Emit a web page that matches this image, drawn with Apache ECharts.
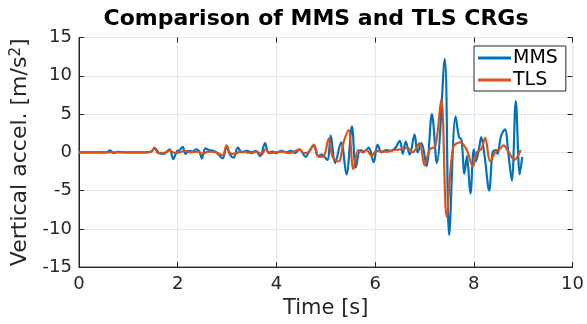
<!DOCTYPE html>
<html>
<head>
<meta charset="utf-8">
<script src="https://cdn.jsdelivr.net/npm/echarts@6/dist/echarts.min.js"></script>
<style>
  html, body { margin: 0; padding: 0; background: #fff; }
  #chart { width: 587px; height: 324px; }
</style>
</head>
<body>
<div id="chart"></div>
<script>
// values (time in s, acceleration in m/s^2)
const mmsTime = [0, 0.55, 0.63, 0.7, 0.78, 1.0, 1.3, 1.45, 1.54, 1.62, 1.72, 1.8, 1.84, 1.91, 1.98, 2.04, 2.1, 2.16, 2.22, 2.3, 2.38, 2.44, 2.49, 2.56, 2.64, 2.72, 2.8, 2.91, 2.99, 3.06, 3.13, 3.22, 3.3, 3.4, 3.5, 3.58, 3.67, 3.77, 3.84, 3.92, 4.0, 4.1, 4.2, 4.3, 4.38, 4.47, 4.53, 4.59, 4.67, 4.76, 4.84, 4.92, 5.03, 5.1, 5.19, 5.31, 5.42, 5.53, 5.61, 5.7, 5.78, 5.87, 5.97, 6.05, 6.13, 6.22, 6.3, 6.4, 6.5, 6.56, 6.62, 6.7, 6.8, 6.86, 6.94, 7.04, 7.15, 7.25, 7.41, 7.5, 7.63, 7.7, 7.75, 7.81, 7.86, 7.93, 8.0, 8.04, 8.1, 8.15, 8.22, 8.31, 8.38, 8.44, 8.48, 8.55, 8.63, 8.7, 8.77, 8.85, 8.93, 8.98];
const mmsAccel = [0, 0, 0.25, -0.1, 0.05, 0, 0, 0.05, 0.5, -0.1, -0.2, 0.2, 0.4, -0.9, 0.1, 0.3, 0.7, -0.2, 0.2, 0.1, 0.4, 0.1, -0.8, 0.5, 0.3, 0.2, -0.1, -0.8, 0.7, -0.3, -0.7, 0.6, 0.0, 0.2, 0.0, 0.2, -0.5, 1.2, -0.1, 0.1, -0.1, 0.2, 0.0, 0.2, -0.1, 0.4, -0.1, -0.6, 0.2, 0.9, -0.5, -0.3, -1.0, 2.2, -1.4, 1.3, -2.9, 3.4, -2.0, 0.3, 0.1, 0.6, -1.3, 1.0, 0.0, 0.3, 0.2, 0.5, 1.5, -0.2, 1.4, -0.3, 2.3, 0.0, 1.2, -1.8, 5.0, -1.4, 12.2, -10.8, 4.7, 2.0, 1.6, -2.8, -0.5, -5.4, 0.4, -1.2, 0.3, 2.0, -0.6, -5.0, 0.0, 0.3, -0.2, 2.1, 3.0, -0.2, -3.7, 6.7, -2.9, -0.6];
const tlsTime = [0, 1.4, 1.47, 1.53, 1.6, 1.7, 1.84, 1.95, 2.05, 2.15, 2.25, 2.4, 2.5, 2.62, 2.78, 2.91, 2.99, 3.06, 3.15, 3.28, 3.4, 3.5, 3.6, 3.7, 3.78, 3.88, 3.98, 4.1, 4.25, 4.4, 4.47, 4.55, 4.65, 4.76, 4.86, 4.96, 5.06, 5.14, 5.26, 5.36, 5.46, 5.56, 5.66, 5.75, 5.83, 5.93, 6.02, 6.12, 6.25, 6.4, 6.55, 6.65, 6.76, 6.9, 7.0, 7.11, 7.22, 7.34, 7.45, 7.58, 7.72, 7.85, 7.98, 8.06, 8.15, 8.23, 8.33, 8.45, 8.52, 8.6, 8.7, 8.82, 8.95];
const tlsAccel = [0, 0, 0.1, 0.6, -0.1, -0.1, 0.2, -0.1, 0.0, 0.2, 0.0, 0.1, -0.2, 0.1, 0.0, -0.4, 0.9, -0.1, -0.2, 0.1, 0.0, -0.1, 0.1, -0.3, 0.4, -0.1, 0.0, 0.1, -0.1, 0.2, 0.4, -0.1, 0.0, 1.0, -0.6, -0.5, 1.8, -0.6, -1.2, 1.3, 2.9, -2.2, 0.3, 0.0, 0.3, -0.5, 0.2, 0.1, 0.1, 0.3, 0.4, 0.6, 0.0, 1.2, -1.7, 0.4, 0.8, 6.9, -8.4, 0.6, 1.3, 0.4, -1.8, 0.0, 0.4, 1.9, -1.2, 0.2, 0.4, 0.9, 0.1, -1.0, 0.3];

const FONT = 'DejaVu Sans';
const AXIS = '#262626';

const chart = echarts.init(document.getElementById('chart'), null, { renderer: 'canvas' });

const zip = (t, v) => t.map((x, i) => [x, v[i]]);

// extra axes only draw the inward ticks on the top and right edges of the box
const tickAxis = {
    axisLine: { show: false, onZero: false },
    axisTick: { show: true, inside: true, length: 5, lineStyle: { color: AXIS } },
    axisLabel: { show: false },
    splitLine: { show: false },
};

chart.setOption({
    animation: false,
    title: {
        text: 'Comparison of MMS and TLS CRGs',
        left: 311, top: 3, textAlign: 'center',
        textStyle: { fontFamily: FONT, fontSize: 22, fontWeight: 'bold', color: '#000' },
    },
    grid: { left: 79, right: 12.5, top: 37.5, bottom: 56, show: true, borderColor: AXIS, borderWidth: 1, backgroundColor: 'transparent' },
    legend: {
        orient: 'vertical',
        left: 474, top: 46,
        padding: [1, 8, 0, 4],
        itemGap: 0,
        itemWidth: 33, itemHeight: 3,
        icon: 'rect',
        borderColor: AXIS, borderWidth: 1, backgroundColor: '#fff',
        textStyle: { fontFamily: FONT, fontSize: 19, color: '#000', lineHeight: 22, padding: [0, 0, 0, -3] },
        data: ['MMS', 'TLS'],
    },
    xAxis: [{
        type: 'value', min: 0, max: 10, interval: 2,
        name: 'Time [s]', nameLocation: 'middle', nameGap: 29,
        nameTextStyle: { fontFamily: FONT, fontSize: 21, color: AXIS },
        axisLine: { show: true, onZero: false, lineStyle: { color: AXIS } },
        axisTick: { show: true, inside: true, length: 5, lineStyle: { color: AXIS } },
        axisLabel: { fontFamily: FONT, fontSize: 18, color: AXIS, margin: 8 },
        splitLine: { show: true, lineStyle: { color: '#e6e6e6', width: 1 } },
    }, Object.assign({ type: 'value', position: 'top', min: 0, max: 10, interval: 2 }, tickAxis)],
    yAxis: [{
        type: 'value', min: -15, max: 15, interval: 5,
        name: 'Vertical accel. [m/s{sup|2}]', nameLocation: 'middle', nameGap: 44,
        nameTextStyle: {
            fontFamily: FONT, fontSize: 22, color: AXIS,
            rich: { sup: { fontFamily: FONT, fontSize: 15, color: AXIS, padding: [0, 0, 10, 0] } },
        },
        axisLine: { show: true, onZero: false, lineStyle: { color: AXIS } },
        axisTick: { show: true, inside: true, length: 5, lineStyle: { color: AXIS } },
        axisLabel: { fontFamily: FONT, fontSize: 18, color: AXIS, margin: 7 },
        splitLine: { show: true, lineStyle: { color: '#e6e6e6', width: 1 } },
    }, Object.assign({ type: 'value', position: 'right', min: -15, max: 15, interval: 5 }, tickAxis)],
    series: [{
        name: 'MMS', type: 'line',
        data: zip(mmsTime, mmsAccel),
        smooth: 0.35, symbol: 'none',
        itemStyle: { color: '#0072BD' },
        lineStyle: { color: '#0072BD', width: 2.2 },
    }, {
        name: 'TLS', type: 'line',
        data: zip(tlsTime, tlsAccel),
        smooth: 0.35, symbol: 'none',
        itemStyle: { color: '#D95319' },
        lineStyle: { color: '#D95319', width: 2.2 },
    }],
});
</script>
</body>
</html>
